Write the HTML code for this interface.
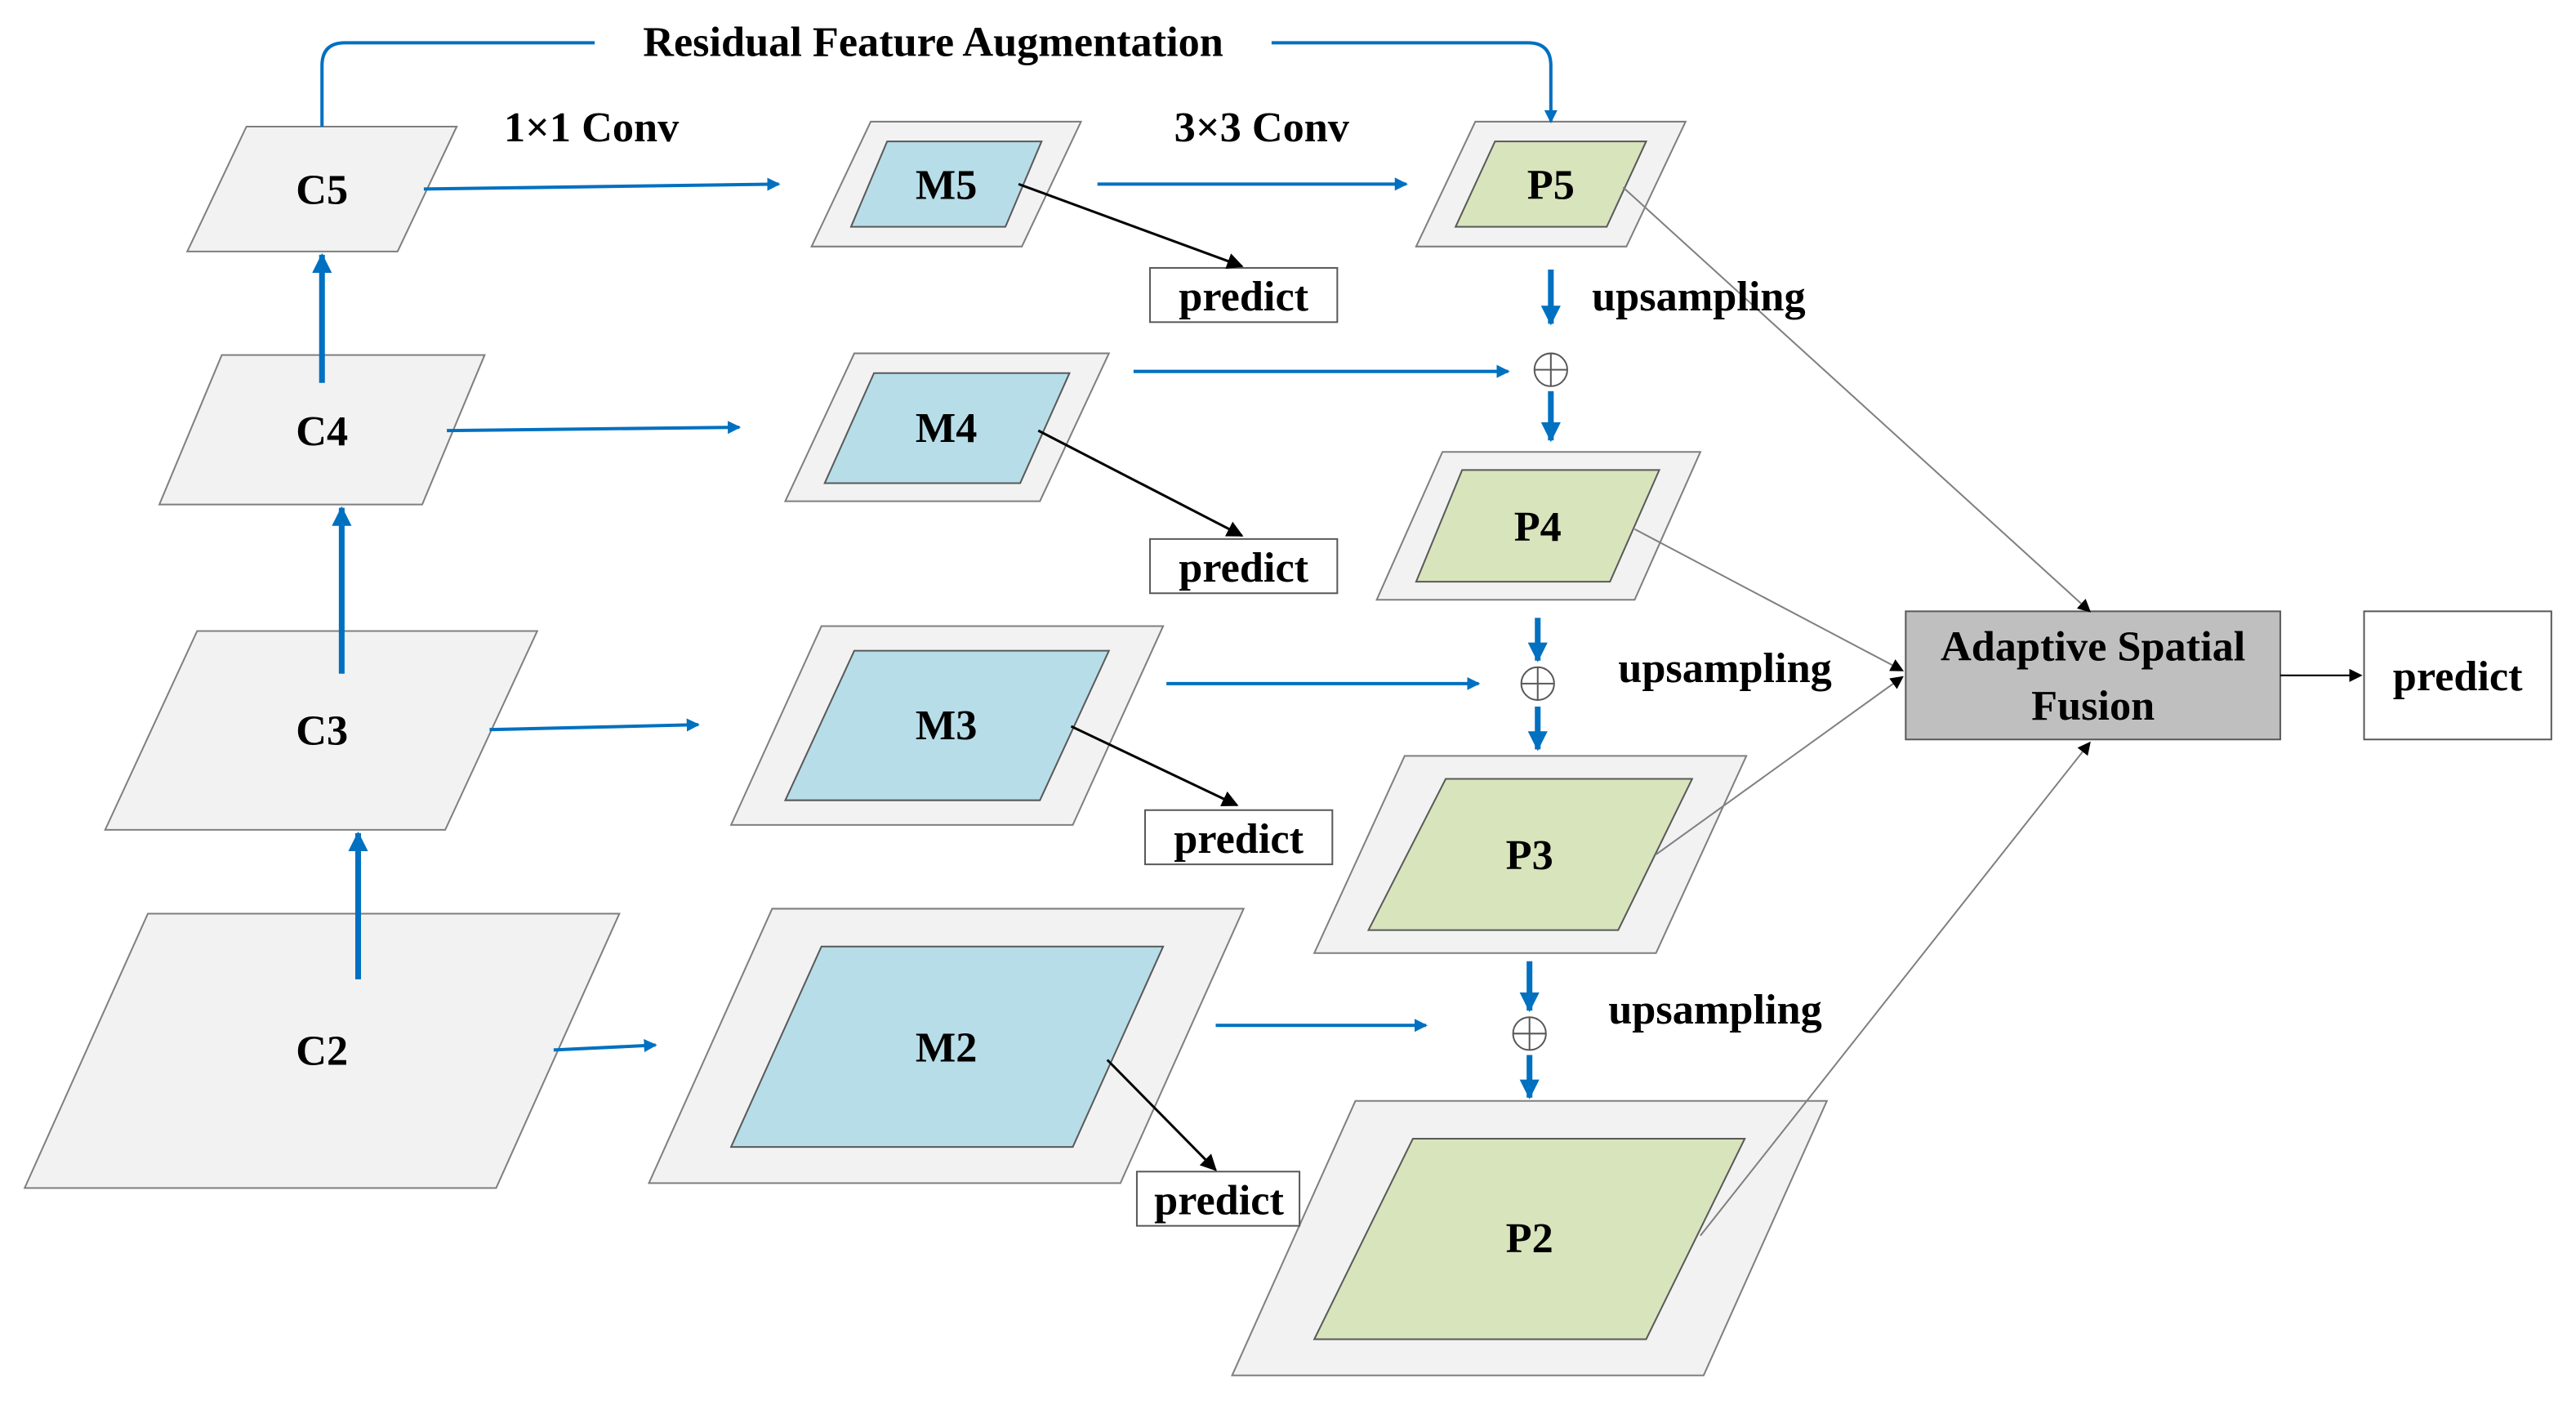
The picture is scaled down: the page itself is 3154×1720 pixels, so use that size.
<!DOCTYPE html>
<html><head><style>html,body{margin:0;padding:0;background:#fff}svg{display:block}</style></head>
<body>
<svg width="3154" height="1720" viewBox="0 0 1568 855" xmlns="http://www.w3.org/2000/svg" font-family="'Liberation Serif', serif" font-weight="bold">
<defs>
<marker id="b" markerWidth="8" markerHeight="8" refX="7" refY="4" orient="auto" markerUnits="userSpaceOnUse"><path d="M0,0 L8,4 L0,8 z" fill="#0070c0"/></marker>
<marker id="bb" markerWidth="12" markerHeight="12" refX="11" refY="6" orient="auto" markerUnits="userSpaceOnUse"><path d="M0,0 L12,6 L0,12 z" fill="#0070c0"/></marker>
<marker id="k" markerWidth="10" markerHeight="10" refX="9" refY="5" orient="auto" markerUnits="userSpaceOnUse"><path d="M0,0 L10,5 L0,10 z" fill="#000"/></marker>
<marker id="g" markerWidth="8" markerHeight="8" refX="7" refY="4" orient="auto" markerUnits="userSpaceOnUse"><path d="M0,0 L8,4 L0,8 z" fill="#000"/></marker>
</defs>
<g fill="#f2f2f2" stroke="#7f7f7f" stroke-width="1">
<polygon points="114,153 150,77 278,77 242,153"/>
<polygon points="97,307 135,216 295,216 257,307"/>
<polygon points="64,505 120,384 327,384 271,505"/>
<polygon points="15,723 90,556 377,556 302,723"/>
<polygon points="494,150 530,74 658,74 622,150"/>
<polygon points="478,305 520,215 675,215 633,305"/>
<polygon points="445,502 500,381 708,381 653,502"/>
<polygon points="395,720 470,553 757,553 682,720"/>
<polygon points="862,150 898,74 1026,74 990,150"/>
<polygon points="838,365 878,275 1035,275 995,365"/>
<polygon points="800,580 855,460 1063,460 1008,580"/>
<polygon points="750,837 825,670 1112,670 1037,837"/>
</g>
<g fill="#b7dde8" stroke="#595959">
<polygon points="518,138 540,86 634,86 612,138"/>
<polygon points="502,294 532,227 651,227 621,294"/>
<polygon points="478,487 520,396 675,396 633,487"/>
<polygon points="445,698 500,576 708,576 653,698"/>
</g>
<g fill="#d8e4bc" stroke="#595959">
<polygon points="886,138 910,86 1002,86 978,138"/>
<polygon points="862,354 890,286 1010,286 980,354"/>
<polygon points="833,566 880,474 1030,474 985,566"/>
<polygon points="800,815 860,693 1062,693 1002,815"/>
</g>
<g fill="#fff" stroke="#595959">
<rect x="700" y="163" width="114" height="33"/>
<rect x="700" y="328" width="114" height="33"/>
<rect x="697" y="493" width="114" height="33"/>
<rect x="692" y="713" width="99" height="33"/>
<rect x="1439" y="372" width="114" height="78"/>
</g>
<rect x="1160" y="372" width="228" height="78" fill="#bfbfbf" stroke="#595959"/>
<g stroke="#0070c0" stroke-width="2" fill="none">
<line x1="258" y1="115" x2="474" y2="112" marker-end="url(#b)"/>
<line x1="272" y1="262" x2="450" y2="260" marker-end="url(#b)"/>
<line x1="298" y1="444" x2="425" y2="441" marker-end="url(#b)"/>
<line x1="337" y1="639" x2="399" y2="636" marker-end="url(#b)"/>
<line x1="668" y1="112" x2="856" y2="112" marker-end="url(#b)"/>
<line x1="690" y1="226" x2="918" y2="226" marker-end="url(#b)"/>
<line x1="710" y1="416" x2="900" y2="416" marker-end="url(#b)"/>
<line x1="740" y1="624" x2="868" y2="624" marker-end="url(#b)"/>
<path d="M196,77 V40 Q196,26 210,26 H930 Q944,26 944,40 V74" marker-end="url(#b)"/>
</g>
<g stroke="#0070c0" stroke-width="3.5" fill="none">
<line x1="196" y1="233" x2="196" y2="155" marker-end="url(#bb)"/>
<line x1="208" y1="410" x2="208" y2="309" marker-end="url(#bb)"/>
<line x1="218" y1="596" x2="218" y2="507" marker-end="url(#bb)"/>
<line x1="944" y1="164" x2="944" y2="197" marker-end="url(#bb)"/>
<line x1="944" y1="238" x2="944" y2="268" marker-end="url(#bb)"/>
<line x1="936" y1="376" x2="936" y2="402" marker-end="url(#bb)"/>
<line x1="936" y1="430" x2="936" y2="456" marker-end="url(#bb)"/>
<line x1="931" y1="585" x2="931" y2="615" marker-end="url(#bb)"/>
<line x1="931" y1="642" x2="931" y2="668" marker-end="url(#bb)"/>
</g>
<g stroke="#595959" stroke-width="1" fill="#fff">
<circle cx="944" cy="225" r="10"/><path d="M934,225 H954 M944,215 V235"/>
<circle cx="936" cy="416" r="10"/><path d="M926,416 H946 M936,406 V426"/>
<circle cx="931" cy="629" r="10"/><path d="M921,629 H941 M931,619 V639"/>
</g>
<g stroke="#000" stroke-width="1.5">
<line x1="620" y1="112" x2="756" y2="162" marker-end="url(#k)"/>
<line x1="632" y1="262" x2="756" y2="326" marker-end="url(#k)"/>
<line x1="652" y1="442" x2="753" y2="490" marker-end="url(#k)"/>
<line x1="674" y1="645" x2="740" y2="712" marker-end="url(#k)"/>
</g>
<g stroke="#808080" stroke-width="1">
<line x1="988" y1="114" x2="1272" y2="372" marker-end="url(#g)"/>
<line x1="995" y1="322" x2="1158" y2="408" marker-end="url(#g)"/>
<line x1="1008" y1="520" x2="1158" y2="412" marker-end="url(#g)"/>
<line x1="1035" y1="752" x2="1272" y2="452" marker-end="url(#g)"/>
<line x1="1388" y1="411" x2="1437" y2="411" stroke="#000" marker-end="url(#g)"/>
</g>
<g font-size="26" text-anchor="middle" fill="#000">
<rect x="362" y="12" width="412" height="28" fill="#fff"/>
<text x="568" y="34">Residual Feature Augmentation</text>
<text x="360" y="86">1×1 Conv</text>
<text x="768" y="86">3×3 Conv</text>
<text x="196" y="124">C5</text>
<text x="196" y="271">C4</text>
<text x="196" y="453">C3</text>
<text x="196" y="648">C2</text>
<text x="576" y="121">M5</text>
<text x="576" y="269">M4</text>
<text x="576" y="450">M3</text>
<text x="576" y="646">M2</text>
<text x="944" y="121">P5</text>
<text x="936" y="329">P4</text>
<text x="931" y="529">P3</text>
<text x="931" y="762">P2</text>
<text x="757" y="189">predict</text>
<text x="757" y="354">predict</text>
<text x="754" y="519">predict</text>
<text x="742" y="739">predict</text>
<text x="1496" y="420">predict</text>
<text x="1274" y="402">Adaptive Spatial</text>
<text x="1274" y="438">Fusion</text>
<text x="1034" y="189">upsampling</text>
<text x="1050" y="415">upsampling</text>
<text x="1044" y="623">upsampling</text>
</g>
</svg>
</body></html>
